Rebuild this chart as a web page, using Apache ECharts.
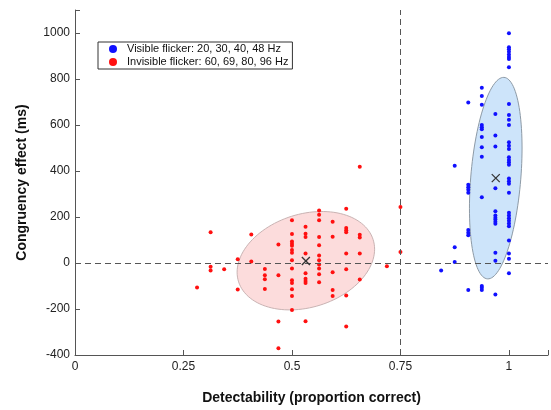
<!DOCTYPE html>
<html><head><meta charset="utf-8">
<script src="https://cdn.jsdelivr.net/npm/echarts@6/dist/echarts.min.js"></script>
<style>html,body{margin:0;padding:0;background:#fff}#c{width:551px;height:410px}</style>
</head><body><div id="c"></div>
<script>
// ---- labels ----
const visibleName = 'Visible flicker: 20, 30, 40, 48 Hz';
const invisibleName = 'Invisible flicker: 60, 69, 80, 96 Hz';
const xTitle = 'Detectability (proportion correct)';
const yTitle = 'Congruency effect (ms)';
const xTickLabels = ['0', '0.25', '0.5', '0.75', '1'];

// ---- invisible flicker (red) points ----
const invisibleX = [
  0.28125,
  0.3125, 0.3125, 0.3125,
  0.34375,
  0.375, 0.375,
  0.40625, 0.40625,
  0.4375, 0.4375, 0.4375, 0.4375,
  0.46875, 0.46875, 0.46875, 0.46875,
  0.5, 0.5, 0.5, 0.5, 0.5, 0.5, 0.5, 0.5, 0.5, 0.5, 0.5, 0.5, 0.5, 0.5,
  0.53125, 0.53125, 0.53125, 0.53125, 0.53125, 0.53125, 0.53125, 0.53125, 0.53125,
  0.5625, 0.5625, 0.5625, 0.5625, 0.5625, 0.5625, 0.5625, 0.5625, 0.5625, 0.5625, 0.5625,
  0.59375, 0.59375, 0.59375, 0.59375, 0.59375,
  0.625, 0.625, 0.625, 0.625, 0.625, 0.625, 0.625, 0.625,
  0.65625, 0.65625, 0.65625, 0.65625, 0.65625,
  0.71875,
  0.75, 0.75
];
const invisibleY = [
  -107,
  134, -16, -33,
  -27,
  16, -115,
  124, 7,
  -26, -53, -71, -113,
  80, -53, -254, -371,
  186, 126, 93, 84, 75, 56, 45, 12, -24, -75, -87, -114, -144, -204,
  158, 127, 113, 41, -45, -68, -78, -87, -253,
  228, 210, 186, 113, 77, 33, 12, -7, -24, -49, -84,
  179, 114, -40, -117, -144,
  236, 152, 142, 134, 41, -27, -141, -276,
  418, 123, 111, 41, -72,
  -14,
  244, 48
];

// ---- visible flicker (blue) points ----
const visibleX = [
  0.84375,
  0.875, 0.875, 0.875,
  0.90625, 0.90625, 0.90625, 0.90625, 0.90625, 0.90625, 0.90625, 0.90625, 0.90625,
  0.9375, 0.9375, 0.9375, 0.9375, 0.9375, 0.9375, 0.9375, 0.9375, 0.9375, 0.9375, 0.9375, 0.9375, 0.9375,
  0.96875, 0.96875, 0.96875, 0.96875, 0.96875, 0.96875, 0.96875, 0.96875, 0.96875, 0.96875, 0.96875, 0.96875, 0.96875,
  1, 1, 1, 1, 1, 1, 1, 1, 1, 1, 1, 1, 1, 1, 1, 1, 1, 1, 1, 1, 1, 1, 1, 1, 1, 1, 1, 1, 1, 1, 1, 1, 1
];
const visibleY = [
  -33,
  423, 68, 4,
  698, 340, 329, 319, 305, 143, 132, 121, -117,
  762, 726, 688, 600, 590, 581, 548, 503, 462, 286, -100, -108, -117,
  648, 554, 507, 325, 225, 207, 197, 189, 179, 171, 45, 10, -137,
  999, 938, 929, 919, 906, 896, 887, 851, 691, 643, 623, 600, 525, 510, 496,
  460, 448, 438, 427, 367, 355, 345, 305, 218, 207, 195, 184, 172, 160, 98, 41, 19, -45
];

// ---- group means (x marks) ----
const invisibleMean = [0.532, 9];
const visibleMean = [0.9696, 369];

// ---- ellipses: centre x, centre y, axis-1 (dx, dy), axis-2 (dx, dy) in data units ----
const invisibleEllipse = [0.532, 10, 0.1584, 50, 0, 208];
const visibleEllipse = [0.9696, 369, 0.0606, 131, 0, 418];

// ---- reference lines ----
const refX = [0.75];
const refY = [0];

function zip(xs, ys) { return xs.map((x, i) => [x, ys[i]]); }

function ellipseSeries(params, fill, stroke) {
  return {
    type: 'custom', silent: true, z: 1,
    coordinateSystem: 'cartesian2d',
    encode: { x: 0, y: 1 },
    data: [params],
    renderItem: function (p, api) {
      const cx = api.value(0), cy = api.value(1);
      const ux = api.value(2), uy = api.value(3), vx = api.value(4), vy = api.value(5);
      const pts = [];
      for (let i = 0; i < 120; i++) {
        const t = i / 120 * Math.PI * 2;
        pts.push(api.coord([cx + ux * Math.cos(t) + vx * Math.sin(t), cy + uy * Math.cos(t) + vy * Math.sin(t)]));
      }
      return { type: 'polygon', shape: { points: pts }, style: { fill: fill, stroke: stroke, lineWidth: 1 } };
    }
  };
}

function meanSeries(pt, color) {
  return {
    type: 'custom', silent: true, z: 5,
    coordinateSystem: 'cartesian2d',
    encode: { x: 0, y: 1 },
    data: [pt],
    renderItem: function (p, api) {
      const c = api.coord([api.value(0), api.value(1)]);
      const s = 4;
      return {
        type: 'group', children: [
          { type: 'line', shape: { x1: c[0] - s, y1: c[1] - s, x2: c[0] + s, y2: c[1] + s }, style: { stroke: color, lineWidth: 1.3 } },
          { type: 'line', shape: { x1: c[0] - s, y1: c[1] + s, x2: c[0] + s, y2: c[1] - s }, style: { stroke: color, lineWidth: 1.3 } }
        ]
      };
    }
  };
}

const font = '"Liberation Sans", Arial, Helvetica, sans-serif';
const chart = echarts.init(document.getElementById('c'), null, { renderer: 'canvas' });
chart.setOption({
  animation: false,
  backgroundColor: '#fff',
  grid: { left: 75, right: 0, top: 10, bottom: 54, containLabel: false },
  legend: {
    left: 98, top: 42, orient: 'vertical',
    data: [visibleName, invisibleName],
    icon: 'circle', itemWidth: 8, itemHeight: 8, itemGap: 1,
    borderColor: '#333', borderWidth: 1, borderRadius: 0,
    padding: [1, 4, 1, 11],
    textStyle: { fontFamily: font, fontSize: 11, color: '#111', padding: [0, 0, 0, 5], lineHeight: 12 }
  },
  xAxis: {
    type: 'value', min: 0, max: 1.09, interval: 0.25,
    name: xTitle, nameLocation: 'middle', nameGap: 36,
    nameTextStyle: { fontFamily: font, fontSize: 14, fontWeight: 'bold', color: '#111' },
    splitLine: { show: false },
    axisLine: { onZero: false, lineStyle: { color: '#555', width: 1 } },
    axisTick: { inside: true, length: 5, lineStyle: { color: '#555' } },
    axisLabel: {
      fontFamily: font, fontSize: 12, color: '#222', margin: 6,
      formatter: function (v) { const i = xTickLabels.indexOf(String(v)); return i >= 0 ? xTickLabels[i] : ''; }
    }
  },
  yAxis: {
    type: 'value', min: -400, max: 1100, interval: 200,
    name: yTitle, nameLocation: 'middle', nameGap: 46,
    nameTextStyle: { fontFamily: font, fontSize: 14, fontWeight: 'bold', color: '#111' },
    splitLine: { show: false },
    axisLine: { onZero: false, lineStyle: { color: '#555', width: 1 } },
    axisTick: { inside: true, length: 5, lineStyle: { color: '#555' } },
    axisLabel: {
      fontFamily: font, fontSize: 12, color: '#222', margin: 5,
      formatter: function (v) { return v > 1000 ? '' : String(v); }
    }
  },
  series: [
    ellipseSeries(invisibleEllipse, '#fcdcdc', '#c9b3b3'),
    ellipseSeries(visibleEllipse, '#cde4fa', '#8d9aa6'),
    {
      name: invisibleName, type: 'scatter', z: 3,
      data: zip(invisibleX, invisibleY),
      symbol: 'circle', symbolSize: 4,
      itemStyle: { color: '#ff1010', opacity: 1 },
      markLine: {
        silent: true, symbol: ['none', 'none'], label: { show: false },
        lineStyle: { type: [6, 4], color: '#555', width: 1 },
        data: refX.map(v => ({ xAxis: v })).concat(refY.map(v => ({ yAxis: v })))
      }
    },
    {
      name: visibleName, type: 'scatter', z: 3,
      data: zip(visibleX, visibleY),
      symbol: 'circle', symbolSize: 4,
      itemStyle: { color: '#1010ff', opacity: 1 }
    },
    meanSeries(invisibleMean, '#333'),
    meanSeries(visibleMean, '#333')
  ]
});
</script>
</body></html>
